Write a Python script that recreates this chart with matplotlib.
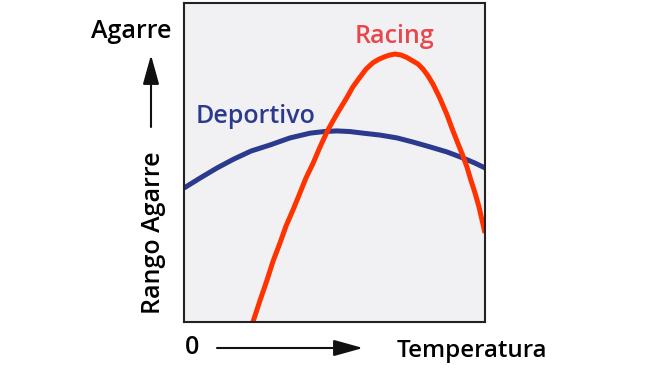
import matplotlib.pyplot as plt
from matplotlib.patches import FancyArrowPatch

# ===datos (temperatura 0-100, agarre 0-100)
deportivo_temp = [0, 5.3, 11.0, 16.6, 22.3, 28.6, 35.2, 41.9, 46.5, 50.8, 55.1, 59.5, 65.1, 70.8,
                  76.1, 81.7, 87.4, 92.7, 96.7, 100]
deportivo_agarre = [42.0, 45.1, 48.3, 51.1, 53.6, 55.5, 57.7, 59.2, 59.7, 59.9, 59.7, 59.2, 58.6, 57.7,
                    56.4, 54.9, 53.3, 51.4, 49.8, 48.3]

racing_temp = [22.9, 25.2, 27.6, 29.6, 31.9, 33.9, 36.2, 38.5, 40.5, 42.9, 45.2, 47.8, 50.8, 54.2,
               56.1, 58.5, 60.5, 62.8, 64.8, 66.8, 68.4, 70.1, 72.1, 74.1, 75.7, 77.7, 79.4, 81.1,
               82.7, 85.0, 87.4, 89.0, 90.7, 92.4, 94.0, 95.3, 96.7, 98.0, 99.0, 100]
racing_agarre = [0, 6.6, 13.2, 19.1, 24.8, 30.1, 35.1, 40.4, 45.1, 49.8, 54.9, 60.2, 65.2, 70.5,
                 73.7, 76.8, 79.3, 81.3, 82.4, 83.2, 83.7, 84.0, 83.7, 82.9, 82.0, 80.9, 79.3, 77.1,
                 74.6, 70.2, 64.9, 60.8, 56.7, 52.7, 48.6, 44.5, 40.4, 36.1, 32.0, 27.9]

font = 'Open Sans'
peso = 'semibold'
azul = '#2b3a8c'
rojo = '#ff3300'

fig = plt.figure(figsize=(6.56, 3.69), dpi=100)
ax = fig.add_axes([184 / 656, 1 - 322 / 369, 301 / 656, 319 / 369])
ax.set_facecolor('#f1f1f3')

ax.plot(deportivo_temp, deportivo_agarre, color=azul, lw=3.6, solid_capstyle='butt', solid_joinstyle='round')
ax.plot(racing_temp, racing_agarre, color=rojo, lw=3.6, solid_capstyle='butt', solid_joinstyle='round')

ax.set_xlim(0, 100)
ax.set_ylim(0, 100)
ax.set_xticks([])
ax.set_yticks([])
for s in ax.spines.values():
    s.set_linewidth(1.5)
    s.set_color('#222222')

# ===etiquetas
ax.text(23.9, 62.4, 'Deportivo', color=azul, fontsize=18, family=font, weight=peso, ha='center', va='baseline')
ax.text(69.8, 87.5, 'Racing', color='#e8474d', fontsize=18, family=font, weight=peso, ha='center', va='baseline')

fig.text(131 / 656, 1 - 38 / 369, 'Agarre', fontsize=18, family=font, weight=peso, ha='center', va='baseline')
fig.text(153 / 656, 1 - 233 / 369, 'Rango Agarre', fontsize=18, family=font, weight=peso, ha='center', va='center', rotation=90)
fig.text(192 / 656, 1 - 354 / 369, '0', fontsize=18, family=font, weight=peso, ha='center', va='baseline')
fig.text(472 / 656, 1 - 357 / 369, 'Temperatura', fontsize=17.4, family=font, weight=peso, ha='center', va='baseline')

# ===flechas
for a, b in [((151, 369 - 127), (151, 369 - 55)), ((217, 369 - 348), (363, 369 - 348))]:
    arr = FancyArrowPatch(a, b, transform=None, arrowstyle='-|>,head_length=0.9,head_width=0.25',
                          mutation_scale=20, lw=1.5, color='#111111', shrinkA=0, shrinkB=0)
    fig.add_artist(arr)

fig.savefig('out.png', dpi=100)
